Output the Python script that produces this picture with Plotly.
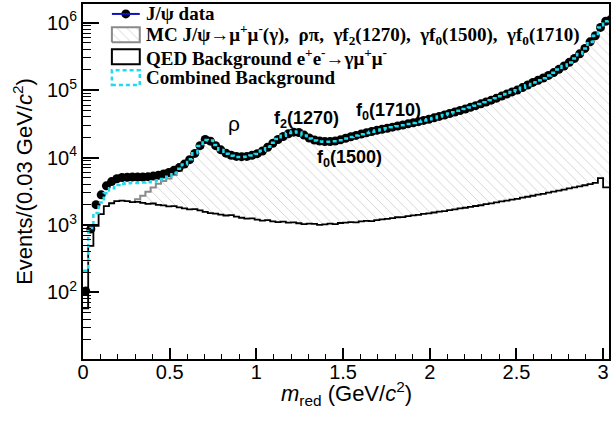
import numpy as np
import plotly.graph_objects as go

# ---------------- data ----------------
bin_width = 0.03
n_bins = 102
edges = np.round(np.arange(n_bins + 1) * bin_width, 4)
centers = (edges[:-1] + edges[1:]) / 2

data_counts = [
    105, 870, 2000, 2800, 3800, 4400, 4850, 5050, 5100, 5150,
    5150, 5150, 5200, 5300, 5450, 5700, 6000, 6500, 7100, 8000,
    9300, 11500, 15000, 18500, 17500, 15000, 13000, 11600, 10800, 10400,
    10300, 10400, 10800, 11400, 12500, 14200, 16300, 18500, 20500, 22500,
    23800, 23500, 21500, 19500, 18200, 17600, 17300, 17300, 17600, 18300,
    19300, 20300, 21300, 22300, 23300, 24300, 25300, 26300, 27200, 28200,
    29300, 30400, 31600, 32800, 34000, 35500, 37000, 38800, 40700, 42800,
    45000, 47300, 49800, 52500, 55500, 58800, 62500, 66500, 71000, 76000,
    81500, 87500, 94000, 100000, 109000, 119000, 130000, 140000, 151000, 165000,
    182000, 203000, 228000, 258000, 295000, 345000, 415000, 520000, 640000, 850000,
    1050000, 1120000]

combined_bkg = [
    210, 900, 1500, 2150, 2950, 3500, 3900, 4100, 4150, 4200,
    4200, 4250, 4300, 4400, 4550, 4800, 5200, 5900, 6800, 7900,
    9400, 11600, 14800, 18200, 17900, 15300, 12900, 11400, 10600, 10200,
    10150, 10300, 10700, 11300, 12600, 14500, 16600, 18900, 21000, 23100,
    24300, 23500, 21200, 19100, 17900, 17300, 17100, 17150, 17500, 18100,
    19100, 20100, 21150, 22200, 23150, 24200, 25150, 26100, 27100, 28100,
    29150, 30200, 31400, 32600, 33900, 35300, 36900, 38600, 40500, 42700,
    44800, 47100, 49600, 52300, 55300, 58600, 62300, 66300, 70800, 75800,
    81200, 87300, 93800, 99800, 108500, 118500, 129500, 139500, 150500, 164500,
    181500, 202500, 227000, 257000, 294000, 344000, 414000, 518000, 638000, 848000,
    1048000, 1118000]

mc_counts = [
    20, 120, 250, 400, 550, 700, 850, 1000, 1200, 1500,
    2400, 2700, 3100, 3600, 4100, 4500, 4900, 5500, 6300, 7400,
    8700, 10800, 14000, 17300, 16800, 14300, 12200, 10800, 10000, 9600,
    9500, 9600, 10000, 10700, 11800, 13600, 15600, 17800, 20000, 21900,
    23100, 22500, 20300, 18300, 17100, 16600, 16400, 16400, 16700, 17400,
    18300, 19300, 20200, 21200, 22200, 23100, 24100, 25100, 26000, 26900,
    28000, 29000, 30200, 31300, 32500, 33900, 35400, 37100, 38900, 41000,
    43100, 45300, 47700, 50300, 53200, 56400, 59900, 63800, 68100, 72900,
    78200, 84000, 90200, 96000, 104600, 114200, 124800, 134400, 145000, 158500,
    175000, 195000, 219000, 248000, 283500, 331500, 398800, 500000, 615000, 817000,
    1009000, 1076000]

qed_counts = [
    58, 490, 970, 1450, 1900, 2100, 2250, 2300, 2250, 2180,
    2200, 2120, 2060, 2080, 1990, 1950, 1880, 1900, 1820, 1760,
    1700, 1720, 1640, 1560, 1500, 1470, 1420, 1380, 1400, 1330,
    1280, 1240, 1250, 1200, 1160, 1180, 1130, 1100, 1120, 1080,
    1090, 1060, 1030, 1050, 1040, 1000, 1020, 1050, 1030, 1070,
    1080, 1100, 1090, 1130, 1150, 1140, 1180, 1210, 1230, 1260,
    1300, 1310, 1350, 1390, 1410, 1460, 1490, 1530, 1580, 1600,
    1660, 1700, 1760, 1800, 1850, 1910, 1960, 2030, 2090, 2160,
    2230, 2290, 2380, 2440, 2540, 2620, 2710, 2820, 2900, 3020,
    3120, 3240, 3350, 3480, 3600, 3740, 3880, 4030, 4200, 4950,
    3600, 3600]

xtick_vals = [0, 0.5, 1, 1.5, 2, 2.5, 3]
xtick_text = ["0", "0.5", "1", "1.5", "2", "2.5", "3"]
ytick_vals = [1e2, 1e3, 1e4, 1e5, 1e6]
ytick_text = ["10<sup>2</sup>", "10<sup>3</sup>", "10<sup>4</sup>", "10<sup>5</sup>", "10<sup>6</sup>"]
yminor_vals = [m * d for d in [10, 100, 1e3, 1e4, 1e5, 1e6] for m in range(2, 10) if m * d < 1.8e6]

x_title = "<i>m</i><sub>red</sub> (GeV/<i>c</i><sup>2</sup>)"
y_title = "Events/(0.03 GeV/<i>c</i><sup>2</sup>)"

legend_labels = [
    "J/ψ data",
    "MC J/ψ→μ<sup>+</sup>μ<sup>-</sup>(γ),\u00a0 ρπ,\u00a0 γf<sub>2</sub>(1270),\u00a0 γf<sub>0</sub>(1500),\u00a0 γf<sub>0</sub>(1710)",
    "QED Background e<sup>+</sup>e<sup>-</sup>→γμ<sup>+</sup>μ<sup>-</sup>",
    "Combined Background",
]

# ---------------- styles ----------------
SANS = "Liberation Sans, Arial, Helvetica, sans-serif"
SERIF = "Liberation Serif, Times New Roman, serif"
CYAN = "#1cdcee"
GRAY = "#8a8a8a"
HATCH = dict(shape="\\", fgcolor="#a4a4a4", bgcolor="white", size=7, solidity=0.13)

def step_y(vals):
    return list(vals) + [vals[-1]]

fig = go.Figure()

fig.add_trace(go.Scatter(
    x=edges, y=step_y(mc_counts), mode="lines", line=dict(color=GRAY, width=2, shape="hv"),
    fill="tozeroy", fillcolor="white", fillpattern=HATCH, showlegend=False, hoverinfo="skip"))
fig.add_trace(go.Scatter(
    x=edges, y=step_y(qed_counts), mode="lines", line=dict(color="black", width=1.8, shape="hv"),
    fill="tozeroy", fillcolor="white", showlegend=False, hoverinfo="skip"))
fig.add_trace(go.Scatter(
    x=centers, y=data_counts, mode="markers", marker=dict(color="black", size=9),
    showlegend=False))
fig.add_trace(go.Scatter(
    x=edges, y=step_y(combined_bkg), mode="lines",
    line=dict(color=CYAN, width=2.5, shape="hv", dash="4px,3px"), showlegend=False))

# ---------------- custom legend (plot-area fractions) ----------------
PX0, PX1, PY0, PY1 = 83, 611, 2, 359
def fx(px):
    return (px - PX0) / (PX1 - PX0)
def fy(py):
    return 1 - (py - PY0) / (PY1 - PY0)

row_y = [12, 33, 55, 76]
box_x0, box_x1, box_h = 112, 140, 15
text_x = 144

# row 1: data symbol
fig.add_shape(type="line", xref="paper", yref="paper", x0=fx(box_x0), x1=fx(box_x1),
              y0=fy(row_y[0]), y1=fy(row_y[0]), line=dict(color="#1010c0", width=2))
fig.add_trace(go.Scatter(x=[fx((box_x0 + box_x1) / 2)], y=[fy(row_y[0])], xaxis="x2", yaxis="y2",
                         mode="markers", marker=dict(color="black", size=9), showlegend=False,
                         hoverinfo="skip"))
# row 2: hatched MC box
bx = [fx(box_x0), fx(box_x1), fx(box_x1), fx(box_x0), fx(box_x0)]
by = [fy(row_y[1] + box_h / 2), fy(row_y[1] + box_h / 2), fy(row_y[1] - box_h / 2),
      fy(row_y[1] - box_h / 2), fy(row_y[1] + box_h / 2)]
fig.add_trace(go.Scatter(x=bx, y=by, xaxis="x2", yaxis="y2", mode="lines", fill="toself",
                         fillcolor="white", fillpattern=HATCH, line=dict(color=GRAY, width=2),
                         showlegend=False, hoverinfo="skip"))
# row 3: QED box
fig.add_shape(type="rect", xref="paper", yref="paper", x0=fx(box_x0), x1=fx(box_x1),
              y0=fy(row_y[2] + box_h / 2), y1=fy(row_y[2] - box_h / 2),
              line=dict(color="black", width=2), fillcolor="white")
# row 4: combined box
fig.add_shape(type="rect", xref="paper", yref="paper", x0=fx(box_x0), x1=fx(box_x1),
              y0=fy(row_y[3] + box_h / 2), y1=fy(row_y[3] - box_h / 2),
              line=dict(color=CYAN, width=2.5, dash="4px,3px"), fillcolor="rgba(0,0,0,0)")

for lab, ry in zip(legend_labels, row_y):
    fig.add_annotation(xref="paper", yref="paper", x=fx(text_x), y=fy(ry), text="<b>" + lab + "</b>",
                       showarrow=False, xanchor="left", yanchor="middle",
                       font=dict(family=SERIF, size=19, color="black"))

# ---------------- peak labels ----------------
peak_labels = ["ρ", "f<sub>2</sub>(1270)", "f<sub>0</sub>(1710)", "f<sub>0</sub>(1500)"]
peak_x = [0.87, 1.29, 1.76, 1.54]
peak_y = [4.50, 4.56, 4.68, 3.985]
peak_bold = [False, True, True, True]
for lab, px, py, b in zip(peak_labels, peak_x, peak_y, peak_bold):
    fig.add_annotation(x=px, y=py, xref="x", yref="y", text=("<b>" + lab + "</b>") if b else lab,
                       showarrow=False, font=dict(family=SANS, size=18 if b else 21, color="black"))

# x-axis title placed as paper annotation (ROOT puts it close to the labels)
fig.add_annotation(xref="paper", yref="paper", x=0.5, y=fy(394), text=x_title, showarrow=False,
                   xanchor="center", yanchor="middle", font=dict(family=SANS, size=22, color="black"))

fig.update_layout(
    width=613, height=424,
    margin=dict(l=PX0, r=613 - PX1, t=PY0, b=424 - PY1),
    plot_bgcolor="white", paper_bgcolor="white",
    showlegend=False,
    xaxis=dict(range=[0, 3.034], tickmode="array", tickvals=xtick_vals, ticktext=xtick_text,
               ticks="inside", ticklen=11, tickwidth=1.5, tickcolor="black",
               showline=True, linewidth=2, linecolor="black", mirror=True,
               showgrid=False, zeroline=False, ticklabelstandoff=-6,
               minor=dict(tick0=0, dtick=0.1, ticks="inside", ticklen=5.5, tickwidth=1.2,
                          tickcolor="black", showgrid=False),
               tickfont=dict(family=SANS, size=20, color="black")),
    yaxis=dict(type="log", range=[1.012, 6.277], tickmode="array", tickvals=ytick_vals,
               ticktext=ytick_text, ticks="inside", ticklen=16, tickwidth=1.5, tickcolor="black",
               showline=True, linewidth=2, linecolor="black", mirror=True,
               showgrid=False, zeroline=False,
               minor=dict(tickmode="array", tickvals=yminor_vals, ticks="inside", ticklen=8,
                          tickwidth=1.2, tickcolor="black", showgrid=False),
               tickfont=dict(family=SANS, size=20, color="black"),
               title=dict(text=y_title, font=dict(family=SANS, size=22, color="black"), standoff=8)),
    xaxis2=dict(overlaying="x", anchor="y2", range=[0, 1], visible=False, fixedrange=True),
    yaxis2=dict(overlaying="y", anchor="x2", range=[0, 1], visible=False, fixedrange=True),
)

fig.write_html("out.html")
